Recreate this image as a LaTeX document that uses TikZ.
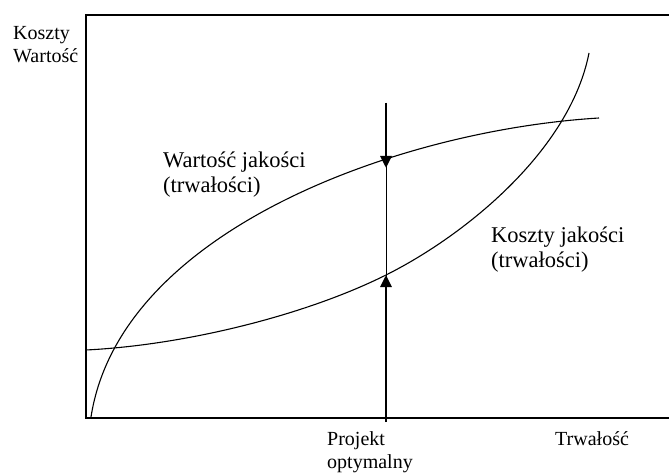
\documentclass[tikz,border=0pt]{standalone}
\usepackage{fontspec}
\setmainfont{Liberation Serif}
\usetikzlibrary{arrows.meta}
\begin{document}
\begin{tikzpicture}[x=1pt,y=-1pt,>={Triangle[length=12pt,width=11pt]}]
  \tikzstyle{axislbl}=[anchor=base west, inner sep=0pt, align=left, font=\fontsize{20}{23}\selectfont]
  \tikzstyle{curvelbl}=[anchor=base west, inner sep=0pt, align=left, font=\fontsize{22.5}{25}\selectfont]
  \tikzstyle{curve}=[line width=1.1pt]
  \tikzstyle{bold}=[line width=2.8pt]

  \useasboundingbox (0,0) rectangle (669,473);

  \coordinate (tr) at (669,15);
  \coordinate (tl) at (86,15);
  \coordinate (bl) at (86,418);
  \coordinate (br) at (669,418);
  \draw[line width=1.3pt] (tr) -- (tl) -- (bl) -- (br);

  \node[axislbl] (yaxis) at (13,63) {Koszty\\Wartość};
  \node[axislbl] (proj) at (327,468) {Projekt\\optymalny};
  \node[axislbl] (xaxis) at (555,445) {Trwałość};

  \node[curvelbl] (wartosc) at (163,193) {Wartość jakości\\(trwałości)};
  \node[curvelbl] (koszty) at (491,267) {Koszty jakości\\(trwałości)};

  \draw[curve] (91,417) .. controls (120,230) and (400,130) .. (599,118);
  \draw[curve] (86,350) .. controls (186,345) and (306,315) .. (386,275)
    .. controls (466,235) and (570,150) .. (589,53);

  \coordinate (top) at (386,103);
  \coordinate (vhit) at (386,168);
  \coordinate (khit) at (386,275);
  \coordinate (bot) at (386,422);

  \draw[line width=0.9pt] (top) -- (bot);
  \draw[bold,->] (top) -- (vhit);
  \draw[bold,->] (bot) -- (khit);
\end{tikzpicture}
\end{document}
